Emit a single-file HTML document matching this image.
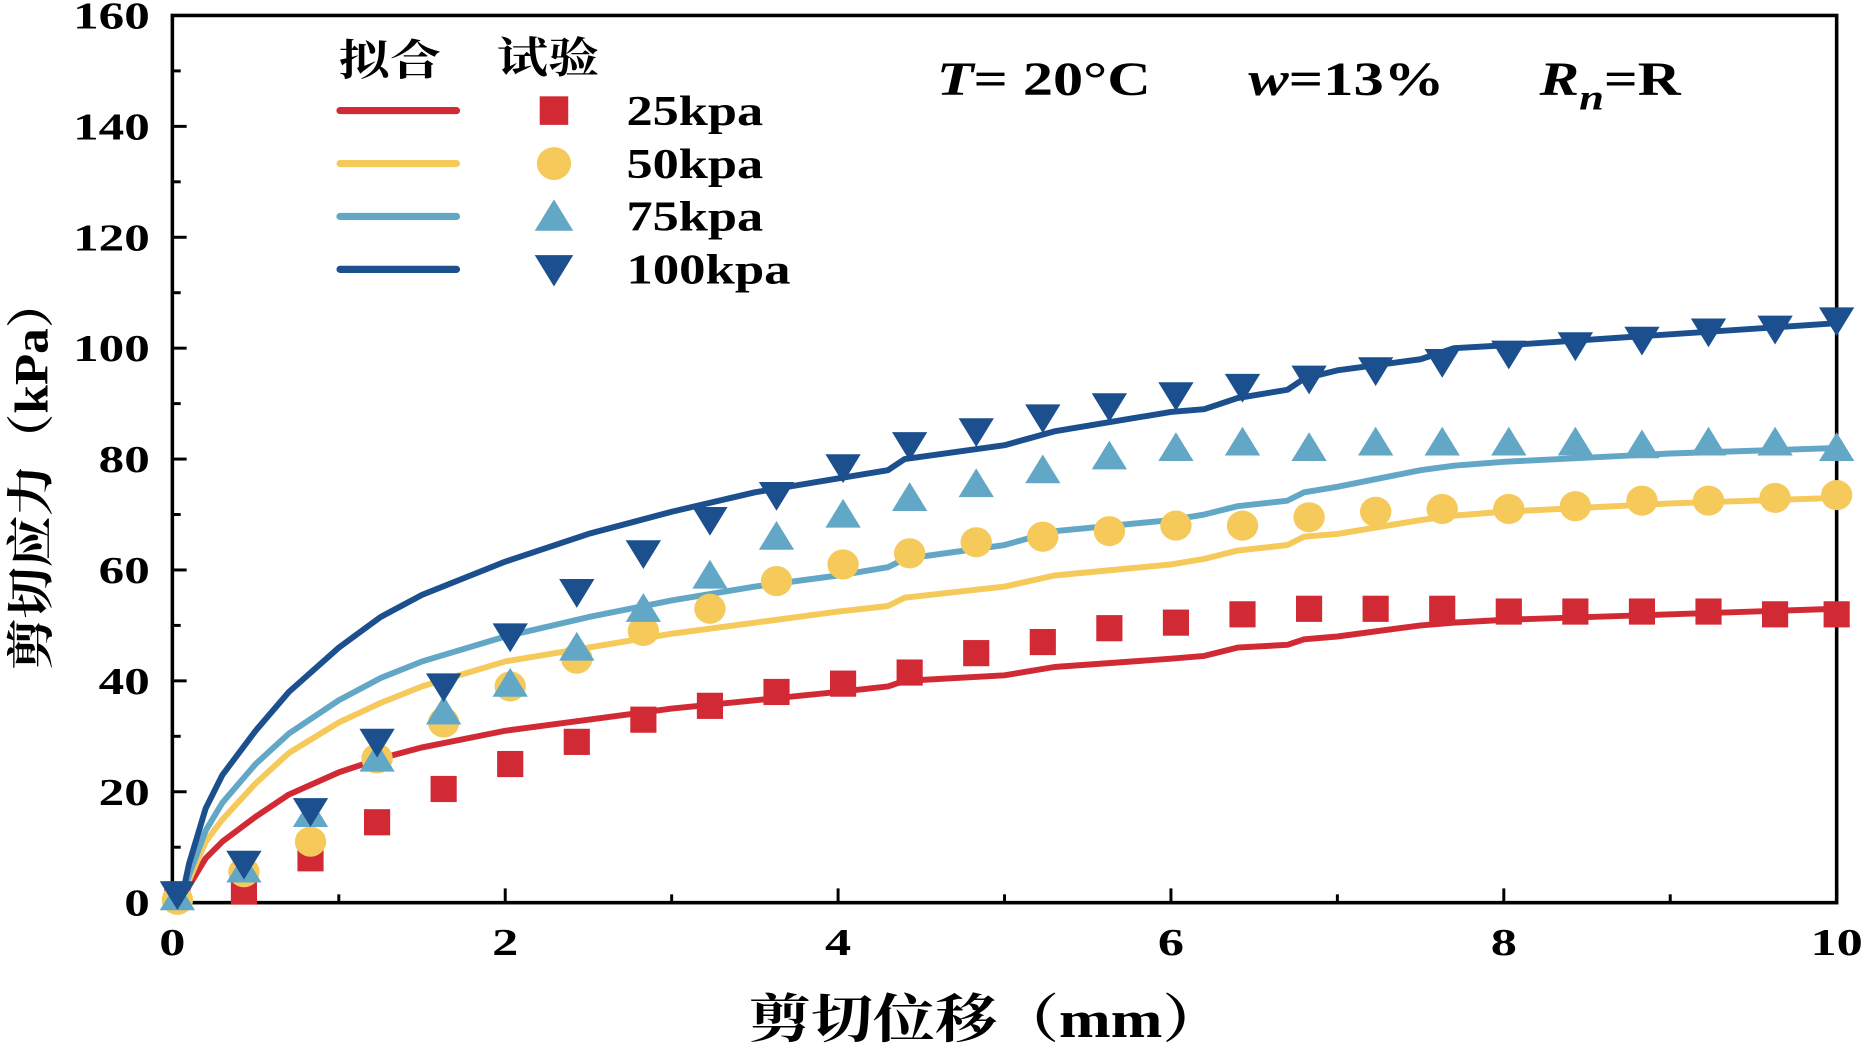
<!DOCTYPE html>
<html><head><meta charset="utf-8"><style>
html,body{margin:0;padding:0;background:#fff;}
svg{display:block;}
text{font-family:"Liberation Serif","Noto Serif CJK SC",serif;font-weight:bold;fill:#000;}
</style></head><body>
<svg id="chart" width="1864" height="1043" viewBox="0 0 1568 877" preserveAspectRatio="none" xmlns="http://www.w3.org/2000/svg">
<g id="axes"></g><g id="lines"></g><g id="marks"></g><g id="legend"></g>
</svg>
<script>
const xTicks=[0,2,4,6,8,10];
const yTicks=[0,20,40,60,80,100,120,140,160];
const seriesNames=['25kpa','50kpa','75kpa','100kpa'];
const colors=['#d22a35','#f5c95a','#62a7c6','#1b4f8e'];
const mx=[0.03,0.43,0.83,1.23,1.63,2.03,2.43,2.83,3.23,3.63,4.03,4.43,4.83,5.23,5.63,6.03,6.43,6.83,7.23,7.63,8.03,8.43,8.83,9.23,9.63,10];
const m25=[1.5,2,8,14.5,20.5,25,29,33,35.5,38,39.5,41.5,45,47,49.5,50.5,52,53,53,53,52.5,52.5,52.5,52.5,52,52];
const m50=[0.5,5.5,11,26,32.5,39,44,49,53,58,61,63,65,66,67,68,68,69.5,70.5,71,71,71.5,72.5,72.5,73,73.5];
const m75=[1,6,16,26,34.5,39.5,46,53,59,66,70,73,75.5,78,80.5,82,83,82,83,83,83,83,82.5,83,83,82];
const m100=[1.5,7,16.5,29,39,48,56,63,69,73.5,78.5,82.5,85,87.5,89.5,91.5,93,94.5,96,97.5,99,100.5,101.5,103,103.5,105];
const fx=[0.05,0.1,0.2,0.3,0.5,0.7,1,1.25,1.5,2,2.5,3,3.5,4,4.3,4.4,5,5.3,6,6.2,6.4,6.7,6.8,7,7.5,7.7,8,9,10];
const f25=[0,3,8,11,15.5,19.5,23.5,26,28,31,33,35,36.5,38,39,40,41,42.5,44,44.5,46,46.5,47.5,48,50,50.5,51,52,53];
const f50=[0,4,11,15,21.5,27,32.5,36,39,43.5,46,48.5,50.5,52.5,53.5,55,57,59,61,62,63.5,64.5,66,66.5,69,69.8,70.5,72,73];
const f75=[0,5,13,18,25,30.5,36.5,40.5,43.5,48,51.5,54.5,57,59,60.5,62,64.5,67,69,70,71.5,72.5,74,75,78,78.8,79.5,81,82];
const f100=[0,7,17,23,31,38,46,51.5,55.5,61.5,66.5,70.5,74,76.5,78,80,82.5,85,88.5,89,91,92.5,94.5,96,98,100,100.5,102.5,104.5];
const NS='http://www.w3.org/2000/svg';
const X=v=>145+v*140, Y=v=>759-v*4.6625;
function mk(tag,attrs,parent,txt){const e=document.createElementNS(NS,tag);for(const k in attrs)e.setAttribute(k,attrs[k]);if(txt!==undefined)e.textContent=txt;parent.appendChild(e);return e;}
const ax=document.getElementById('axes');
let r=mk('rect',{x:145,y:13,width:1400,height:746,fill:'none',stroke:'#000','stroke-width':3},ax);


for(let v=0;v<=10;v+=1){const l=mk('line',{x1:X(v),x2:X(v),y1:759,y2:v%2==0?747:752,stroke:'#000','stroke-width':2.5},ax);

}
for(let v=0;v<=160;v+=10){const l=mk('line',{x1:145,x2:v%20==0?157:152,y1:Y(v),y2:Y(v),stroke:'#000','stroke-width':2.5},ax);

}
xTicks.forEach(v=>{const w=String(v).length*22;const t=mk('text',{x:X(v),y:803,'text-anchor':'middle','font-size':32,textLength:w,lengthAdjust:'spacingAndGlyphs'},ax,String(v));

});
yTicks.forEach(v=>{const w=String(v).length*21.5;const t=mk('text',{x:126,y:Y(v)+11,'text-anchor':'end','font-size':32,textLength:w,lengthAdjust:'spacingAndGlyphs'},ax,String(v));

});
let xt=mk('text',{x:630,y:872,'font-size':44,textLength:400,lengthAdjust:'spacingAndGlyphs'},ax,'剪切位移（mm）');


let yt=mk('text',{x:0,y:0,'text-anchor':'middle','font-size':40,textLength:330,lengthAdjust:'spacingAndGlyphs',transform:'translate(40,398) rotate(-90)'},ax,'剪切应力（kPa）');


function annot(x,w,html,name){const t=mk('text',{x:x,y:80,'font-size':40,textLength:w,lengthAdjust:'spacingAndGlyphs'},ax);t.innerHTML=html;

}
annot(788,180,'<tspan font-style="italic">T</tspan>= 20°C','temperature-annotation');
annot(1050,165,'<tspan font-style="italic">w</tspan>=13%','moisture-annotation');
let rn=mk('text',{x:1295,y:80,'font-size':40},ax);
rn.innerHTML='<tspan font-style="italic">R</tspan><tspan font-style="italic" font-size="30" dy="12">n</tspan><tspan dy="-12">=R</tspan>';


rn.setAttribute('transform','translate(1295,0) scale(1.25,1) translate(-1295,0)');
const fits=[f25,f50,f75,f100], ms=[m25,m50,m75,m100];
const lg=document.getElementById('lines'), mg=document.getElementById('marks');
fits.forEach((f,i)=>{const d=f.map((v,j)=>(j?'L':'M')+X(fx[j])+','+Y(v)).join(' ');
const p=mk('path',{d:d,fill:'none',stroke:colors[i],'stroke-width':5,'stroke-linejoin':'round'},lg);

});
function marker(i,cx,cy,g,s){let e;
if(i==0)e=mk('rect',{x:cx-s,y:cy-s,width:2*s,height:2*s,fill:colors[0]},g);
else if(i==1)e=mk('ellipse',{cx:cx,cy:cy,rx:s*1.2,ry:s*1.15,fill:colors[1]},g);
else if(i==2)e=mk('polygon',{points:`${cx},${cy-s*1.2} ${cx-s*1.35},${cy+s} ${cx+s*1.35},${cy+s}`,fill:colors[2]},g);
else e=mk('polygon',{points:`${cx},${cy+s*1.2} ${cx-s*1.35},${cy-s} ${cx+s*1.35},${cy-s}`,fill:colors[3]},g);
return e;}
ms.forEach((arr,i)=>arr.forEach((v,j)=>{const e=marker(i,X(mx[j]),Y(v),mg,11);

}));
const L=document.getElementById('legend');
let h1=mk('text',{x:285,y:63,'font-size':36,'font-weight':'normal',textLength:86,lengthAdjust:'spacingAndGlyphs'},L,'拟合');


let h2=mk('text',{x:418,y:61,'font-size':36,'font-weight':'normal',textLength:86,lengthAdjust:'spacingAndGlyphs'},L,'试验');


seriesNames.forEach((n,i)=>{const y=93+i*44.5;
const l=mk('line',{x1:286,x2:384,y1:y,y2:y,stroke:colors[i],'stroke-width':6,'stroke-linecap':'round'},L);


const m=marker(i,466,y,L,12);


const t=mk('text',{x:527,y:y+12,'font-size':36,textLength:n.length*23,lengthAdjust:'spacingAndGlyphs'},L,n);

});
</script>
</body></html>
